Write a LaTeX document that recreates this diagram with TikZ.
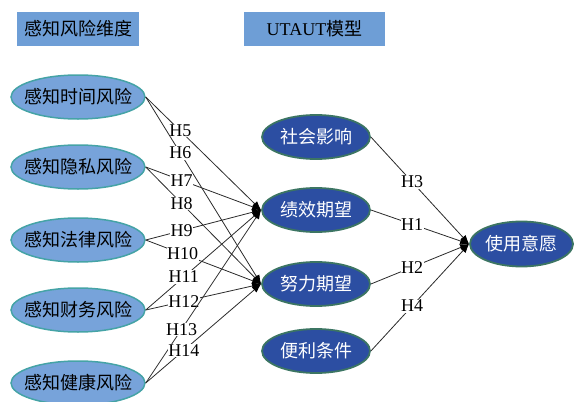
\documentclass[tikz,border=0pt]{standalone}
\usepackage{fontspec}
\setmainfont{Liberation Serif}
\newfontfamily\cjk{Noto Sans CJK SC}
\usetikzlibrary{shapes.geometric,arrows.meta}
\definecolor{hdrfill}{HTML}{6E9ED6}
\definecolor{lightfill}{HTML}{77A3DA}
\definecolor{lightborder}{HTML}{45A3A6}
\definecolor{darkfill}{HTML}{2C4EA2}
\definecolor{darkborder}{HTML}{3C7563}
\definecolor{linecol}{HTML}{2A2A2A}
\newcommand{\ctext}[1]{\makebox[0pt][c]{#1}}
\tikzset{
  hdr/.style={draw=none, fill=hdrfill, inner sep=0pt, minimum height=34pt,
              font=\fontsize{18}{20}\selectfont, text=black},
  riskell/.style={ellipse, draw=lightborder, line width=1.5pt, fill=lightfill,
              minimum width=134pt, minimum height=44pt, inner sep=0pt,
              font=\cjk\fontsize{18}{20}\selectfont, text=black},
  modell/.style={ellipse, draw=darkborder, line width=1.8pt, fill=darkfill,
              minimum width=108pt, minimum height=44pt, inner sep=0pt,
              font=\cjk\fontsize{18}{20}\selectfont, text=white},
  hyp/.style={draw=linecol, line width=0.8pt, -{Latex[length=9pt,width=7pt,black]}},
  hlab/.style={fill=white, inner sep=0.6pt, font=\fontsize{18}{19}\selectfont, text=black}
}
\begin{document}
\begin{tikzpicture}[x=1pt,y=-1pt]
\useasboundingbox (0,0) rectangle (574,402);
% headers
\node[hdr, minimum width=122pt] (h1) at (78,29) {\ctext{\cjk 感知风险维度}};
\node[hdr, minimum width=141pt] (h2) at (314.5,29) {\ctext{UTAUT{\cjk 模型}}};
% left ellipses
\node[riskell] (t1) at (78,97)  {\ctext{感知时间风险}};
\node[riskell] (t2) at (78,167) {\ctext{感知隐私风险}};
\node[riskell] (t3) at (78,240) {\ctext{感知法律风险}};
\node[riskell] (t4) at (78,310) {\ctext{感知财务风险}};
\node[riskell] (t5) at (78,383) {\ctext{感知健康风险}};
% model ellipses
\node[modell] (sh) at (316,137) {\ctext{社会影响}};
\node[modell] (jx) at (316,210) {\ctext{绩效期望}};
\node[modell] (nl) at (316,284) {\ctext{努力期望}};
\node[modell] (bl) at (316,351) {\ctext{便利条件}};
\node[modell, minimum width=103pt, minimum height=45pt] (sy) at (521.5,244) {\ctext{使用意愿}};
% left hypotheses
\draw[hyp] (t1.east) -- node[hlab,pos=0.30]{H5} (jx.west);
\draw[hyp] (t1.east) -- node[hlab,pos=0.30]{H6} (nl.west);
\draw[hyp] (t2.east) -- node[hlab,pos=0.31]{H7} (jx.west);
\draw[hyp] (t2.east) -- node[hlab,pos=0.31]{H8} (nl.west);
\draw[hyp] (t3.east) -- node[hlab,pos=0.31]{H9} (jx.west);
\draw[hyp] (t3.east) -- node[hlab,pos=0.32]{H10} (nl.west);
\draw[hyp] (t4.east) -- node[hlab,pos=0.33]{H11} (jx.west);
\draw[hyp] (t4.east) -- node[hlab,pos=0.33]{H12} (nl.west);
\draw[hyp] (t5.east) -- node[hlab,pos=0.31]{H13} (jx.west);
\draw[hyp] (t5.east) -- node[hlab,pos=0.33]{H14} (nl.west);
% right hypotheses
\draw[hyp] (sh.east) -- node[hlab,pos=0.42]{H3} (sy.west);
\draw[hyp] (jx.east) -- node[hlab,pos=0.42]{H1} (sy.west);
\draw[hyp] (nl.east) -- node[hlab,pos=0.42]{H2} (sy.west);
\draw[hyp] (bl.east) -- node[hlab,pos=0.42]{H4} (sy.west);
\end{tikzpicture}
\end{document}
